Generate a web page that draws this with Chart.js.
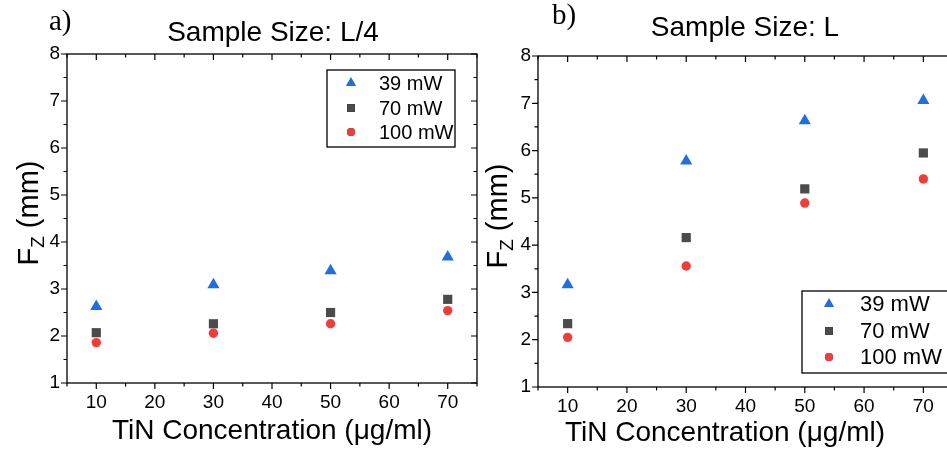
<!DOCTYPE html>
<html>
<head>
<meta charset="utf-8">
<script src="https://cdn.jsdelivr.net/npm/chart.js@4.4.1/dist/chart.umd.min.js"></script>
<style>
  html, body { margin: 0; padding: 0; background: #fff; }
  body { width: 947px; height: 454px; position: relative; overflow: hidden; }
  .panel { position: absolute; top: 0; height: 454px; overflow: hidden; }
  #pa { left: 0; width: 490px; }
  #pb { left: 480px; width: 467px; }
</style>
</head>
<body>
<div class="panel" id="pa"><canvas id="chartA" width="490" height="454"></canvas></div>
<div class="panel" id="pb"><canvas id="chartB" width="480" height="454"></canvas></div>
<script>
// TiN concentration (ug/ml)
var concentrations = [10, 30, 50, 70];
var seriesLabels = ['39 mW', '70 mW', '100 mW'];

// panel a) sample size L/4, Fz in mm
var smallFz39 = [2.63, 3.09, 3.39, 3.68];
var smallFz70 = [2.07, 2.26, 2.50, 2.78];
var smallFz100 = [1.86, 2.06, 2.26, 2.54];

// panel b) sample size L
var largeFz39 = [3.16, 5.78, 6.63, 7.06];
var largeFz70 = [2.34, 4.16, 5.19, 5.95];
var largeFz100 = [2.05, 3.56, 4.89, 5.40];

var xTickValues = [10, 20, 30, 40, 50, 60, 70];

var BLUE = '#1f6fe0', GRAY = '#4b4b4b', RED = '#f23c3c';
var SANS = '"Liberation Sans", Arial, sans-serif';
var SERIF = '"Liberation Serif", "Times New Roman", serif';

function pts(vals) {
    return concentrations.map(function (c, i) { return {x: c, y: vals[i]}; });
}

function makeDatasets(v39, v70, v100) {
    return [{
        label: seriesLabels[0], data: pts(v39),
        pointStyle: 'triangle', pointRadius: 7, backgroundColor: BLUE, borderColor: BLUE, borderWidth: 0
    }, {
        label: seriesLabels[1], data: pts(v70),
        pointStyle: 'rect', pointRadius: 6.5, backgroundColor: GRAY, borderColor: GRAY, borderWidth: 0
    }, {
        label: seriesLabels[2], data: pts(v100),
        pointStyle: 'circle', pointRadius: 4.7, backgroundColor: RED, borderColor: RED, borderWidth: 0
    }];
}

// frame, ticks on all four sides, legend box and texts
var framePlugin = {
    id: 'frame',
    afterDraw: function (chart, args, o) {
        var ctx = chart.ctx, a = chart.chartArea;
        var xs = chart.scales.x, ys = chart.scales.y;
        ctx.save();
        ctx.strokeStyle = '#000';
        ctx.lineWidth = 1.3;
        ctx.strokeRect(a.left, a.top, a.right - a.left, a.bottom - a.top);

        ctx.lineWidth = 1.2;
        ctx.beginPath();
        for (var v = 5; v <= 75; v += 5) {
            var px = xs.getPixelForValue(v);
            var len = v % 10 === 0 ? 6 : 3.5;
            ctx.moveTo(px, a.bottom); ctx.lineTo(px, a.bottom + len);
            ctx.moveTo(px, a.top); ctx.lineTo(px, a.top + len);
        }
        for (var w = 1; w <= 8; w += 0.5) {
            var py = ys.getPixelForValue(w);
            var l2 = w % 1 === 0 ? 6 : 3.5;
            ctx.moveTo(a.left, py); ctx.lineTo(a.left - l2, py);
            ctx.moveTo(a.right, py); ctx.lineTo(a.right - l2, py);
        }
        ctx.stroke();

        // legend
        var lg = o.legend;
        ctx.fillStyle = '#fff';
        ctx.fillRect(lg.x, lg.y, lg.w, lg.h);
        ctx.lineWidth = 1.3;
        ctx.strokeStyle = '#000';
        ctx.strokeRect(lg.x, lg.y, lg.w, lg.h);
        chart.data.datasets.forEach(function (ds, i) {
            var cy = lg.rowY[i];
            Chart.helpers.drawPoint(ctx, {
                pointStyle: ds.pointStyle, radius: ds.pointRadius * 0.85, borderWidth: 0, rotation: 0
            }, lg.markX, cy);
            ctx.fillStyle = ds.backgroundColor;
            ctx.fill();
            ctx.fillStyle = '#000';
            ctx.font = lg.font + 'px ' + SANS;
            ctx.textAlign = 'left';
            ctx.textBaseline = 'middle';
            ctx.fillText(ds.label, lg.textX, cy + 1);
        });

        // title and panel letter
        ctx.fillStyle = '#000';
        ctx.textAlign = 'center';
        ctx.textBaseline = 'middle';
        ctx.font = '28px ' + SANS;
        ctx.fillText(o.title, o.titleX, o.titleY);
        ctx.textAlign = 'left';
        ctx.textBaseline = 'alphabetic';
        ctx.font = '29px ' + SERIF;
        ctx.fillText(o.letter, o.letterX, o.letterY);

        // x axis title
        ctx.textAlign = 'center';
        ctx.textBaseline = 'middle';
        ctx.font = '28px ' + SANS;
        ctx.fillText('TiN Concentration (\u03bcg/ml)', (a.left + o.xTitleCenter) , o.xTitleY);

        // y axis title F_Z (mm)
        ctx.translate(o.yTitleX, o.yTitleY);
        ctx.rotate(-Math.PI / 2);
        ctx.textBaseline = 'alphabetic';
        ctx.font = '29px ' + SANS;
        var wF = ctx.measureText('F').width;
        var wRest = ctx.measureText(' (mm)').width;
        ctx.font = '19px ' + SANS;
        var wZ = ctx.measureText('Z').width;
        var total = wF + wZ + wRest;
        var x0 = -total / 2;
        ctx.textAlign = 'left';
        ctx.font = '29px ' + SANS;
        ctx.fillText('F', x0, 10);
        ctx.font = '19px ' + SANS;
        ctx.fillText('Z', x0 + wF, 16);
        ctx.font = '29px ' + SANS;
        ctx.fillText(' (mm)', x0 + wF + wZ, 10);
        ctx.restore();
    }
};

function makeChart(id, datasets, box, texts) {
    return new Chart(document.getElementById(id).getContext('2d'), {
        type: 'scatter',
        data: {datasets: datasets},
        plugins: [framePlugin],
        options: {
            responsive: false,
            animation: false,
            layout: {padding: {top: box.top, right: box.right, left: 0, bottom: 0}},
            scales: {
                x: {
                    type: 'linear', min: 5, max: 75,
                    grid: {display: false, tickLength: 0}, border: {display: false},
                    ticks: {color: '#000', font: {family: SANS, size: 19}, padding: 8},
                    afterBuildTicks: function (s) { s.ticks = xTickValues.map(function (v) { return {value: v}; }); },
                    afterFit: function (s) { s.height = box.xHeight; }
                },
                y: {
                    type: 'linear', min: 1, max: 8,
                    grid: {display: false, tickLength: 0}, border: {display: false},
                    ticks: {stepSize: 1, color: '#000', font: {family: SANS, size: 19}, padding: 7},
                    afterFit: function (s) { s.width = box.yWidth; }
                }
            },
            plugins: {
                legend: {display: false},
                tooltip: {enabled: false},
                frame: texts
            }
        }
    });
}

makeChart('chartA', makeDatasets(smallFz39, smallFz70, smallFz100),
    {top: 54, right: 13, yWidth: 67, xHeight: 71},
    {
        title: 'Sample Size: L/4', titleX: 273, titleY: 33,
        letter: 'a)', letterX: 49, letterY: 30,
        xTitleCenter: 205, xTitleY: 431,
        yTitleX: 28, yTitleY: 213,
        legend: {x: 327, y: 70, w: 128, h: 77, markX: 351, textX: 379, rowY: [83, 108, 132], font: 20}
    });

makeChart('chartB', makeDatasets(largeFz39, largeFz70, largeFz100),
    {top: 56, right: 5, yWidth: 58, xHeight: 67},
    {
        title: 'Sample Size: L', titleX: 265, titleY: 28,
        letter: 'b)', letterX: 72, letterY: 24,
        xTitleCenter: 187, xTitleY: 433,
        yTitleX: 17, yTitleY: 216,
        legend: {x: 322, y: 291, w: 150, h: 82, markX: 349, textX: 380, rowY: [304, 331, 357], font: 22}
    });
</script>
</body>
</html>
